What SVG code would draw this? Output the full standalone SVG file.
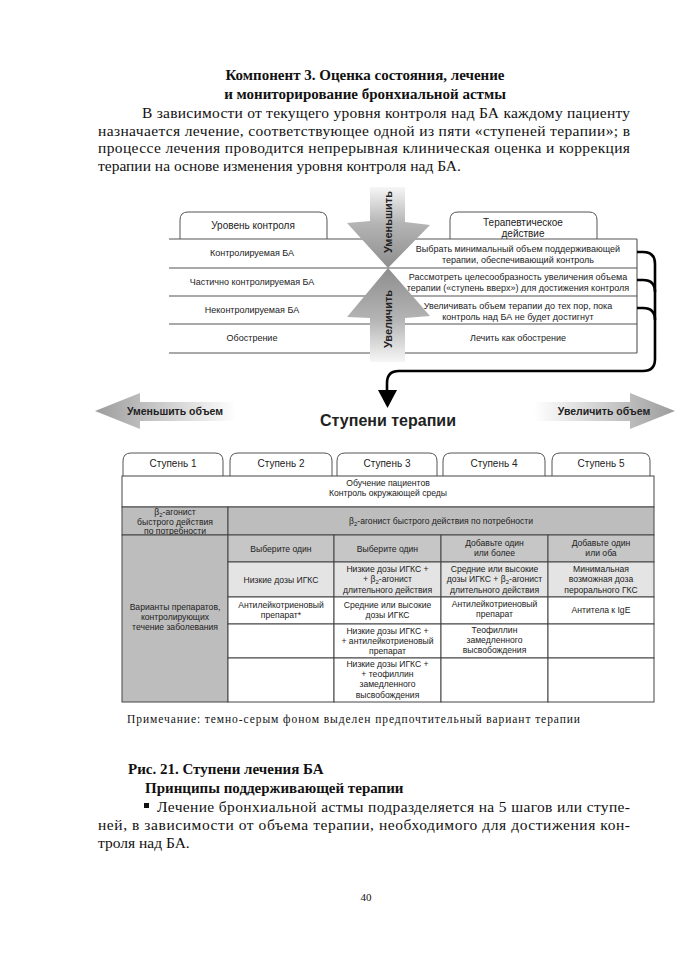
<svg xmlns="http://www.w3.org/2000/svg" width="678" height="960" viewBox="0 0 678 960">
<style>
.serif{font-family:"Liberation Serif","Times New Roman",serif;fill:#111}
.sans{font-family:"Liberation Sans",Arial,sans-serif;fill:#222}
.t9{font-size:9px;text-anchor:middle}
.t8{font-size:8.6px;text-anchor:middle}
.tab{fill:#fff;stroke:#555;stroke-width:1}
.ln{stroke:#555;stroke-width:1.1;fill:none}
.cell{stroke:#444;stroke-width:1}
.g1{fill:#bdbdbd}
.g2{fill:#c6c6c6}
.g3{fill:#e4e4e4}
.w{fill:#fff}
.con{stroke:#000;stroke-width:2.6;fill:none}
</style>
<defs>
<linearGradient id="gDown" x1="0" y1="0" x2="0" y2="1">
<stop offset="0" stop-color="#f6f6f6"/><stop offset="0.45" stop-color="#b4b4b4"/><stop offset="1" stop-color="#8e8e8e"/>
</linearGradient>
<linearGradient id="gUp" x1="0" y1="1" x2="0" y2="0">
<stop offset="0" stop-color="#f6f6f6"/><stop offset="0.45" stop-color="#b4b4b4"/><stop offset="1" stop-color="#8e8e8e"/>
</linearGradient>
<linearGradient id="gLeft" x1="0" y1="0" x2="1" y2="0">
<stop offset="0" stop-color="#9c9c9c"/><stop offset="0.4" stop-color="#c4c4c4"/><stop offset="1" stop-color="#ffffff"/>
</linearGradient>
<linearGradient id="gRight" x1="0" y1="0" x2="1" y2="0">
<stop offset="0" stop-color="#ffffff"/><stop offset="0.6" stop-color="#c4c4c4"/><stop offset="1" stop-color="#9c9c9c"/>
</linearGradient>
</defs>
<rect width="678" height="960" fill="#fff"/>

<!-- heading text -->
<g id="heading" class="serif">
<text x="365" y="80" font-size="15" font-weight="bold" text-anchor="middle">Компонент 3. Оценка состояния, лечение</text>
<text x="365" y="98.5" font-size="15" font-weight="bold" text-anchor="middle">и мониторирование бронхиальной астмы</text>
<text x="142" y="118" font-size="15.5" textLength="488" lengthAdjust="spacing">В зависимости от текущего уровня контроля над БА каждому пациенту</text>
<text x="98" y="135.5" font-size="15.5" textLength="532" lengthAdjust="spacing">назначается лечение, соответствующее одной из пяти «ступеней терапии»; в</text>
<text x="98" y="153" font-size="15.5" textLength="532" lengthAdjust="spacing">процессе лечения проводится непрерывная клиническая оценка и коррекция</text>
<text x="98" y="170.5" font-size="15.5">терапии на основе изменения уровня контроля над БА.</text>
</g>

<!-- upper table -->
<g id="control-table">
<path class="tab" d="M180,239 V220 Q180,212 188,212 H319 Q327,212 327,220 V239"/>
<text class="sans" x="253" y="228.5" font-size="10" text-anchor="middle">Уровень контроля</text>
<path class="tab" d="M450,239 V220 Q450,212 458,212 H589 Q597,212 597,220 V239"/>
<text class="sans" x="523" y="225.5" font-size="10" text-anchor="middle">Терапевтическое</text>
<text class="sans" x="523" y="236.5" font-size="10" text-anchor="middle">действие</text>
<line class="ln" x1="169" y1="239" x2="637" y2="239"/>
<line class="ln" x1="169" y1="268" x2="637" y2="268"/>
<line class="ln" x1="169" y1="296" x2="637" y2="296"/>
<line class="ln" x1="169" y1="324" x2="637" y2="324"/>
<line class="ln" x1="169" y1="353" x2="637" y2="353"/>
<line class="ln" x1="637" y1="239" x2="637" y2="353"/>
</g>
<g id="lvl1" class="sans t9"><text x="252" y="256">Контролируемая БА</text></g>
<g id="lvl2" class="sans t9"><text x="252" y="285">Частично контролируемая БА</text></g>
<g id="lvl3" class="sans t9"><text x="252" y="313">Неконтролируемая БА</text></g>
<g id="lvl4" class="sans t9"><text x="252" y="341">Обострение</text></g>
<g id="act1" class="sans t9"><text x="518" y="252">Выбрать минимальный объем поддерживающей</text><text x="518" y="262.5">терапии, обеспечивающий контроль</text></g>
<g id="act2" class="sans t9"><text x="518" y="280">Рассмотреть целесообразность увеличения объема</text><text x="518" y="290.5">терапии («ступень вверх») для достижения контроля</text></g>
<g id="act3" class="sans t9"><text x="518" y="309">Увеличивать объем терапии до тех пор, пока</text><text x="518" y="319.5">контроль над БА не будет достигнут</text></g>
<g id="act4" class="sans t9"><text x="518" y="341">Лечить как обострение</text></g>

<!-- central arrows -->
<g id="arrow-decrease">
<path d="M370,187 H405 V222 L430,225 L388,268 L347,223 L370,221 Z" fill="url(#gDown)"/>
<text class="sans" font-size="11" font-weight="bold" fill="#111" text-anchor="middle" transform="translate(392,222) rotate(-90)">Уменьшить</text>
</g>
<g id="arrow-increase">
<path d="M388,268 L430,316 L405,318 V362 H370 V318 L347,317 Z" fill="url(#gUp)"/>
<text class="sans" font-size="11" font-weight="bold" fill="#111" text-anchor="middle" transform="translate(392,319) rotate(-90)">Увеличить</text>
</g>

<!-- connectors -->
<g id="connectors">
<path class="con" d="M637,252 H643 Q655,252 655,264 V359 Q655,371 643,371 H399 Q387,371 387,383 V392"/>
<path class="con" d="M637,280 H643 Q655,280 655,292"/>
<path class="con" d="M637,308 H643 Q655,308 655,320"/>
<polygon points="378,390 397,390 387.5,408" fill="#000"/>
</g>

<!-- steps header -->
<g id="arrow-left">
<path d="M95,411 L140,393 V402 H236 V421 H140 V429 Z" fill="url(#gLeft)"/>
<text class="sans" x="175" y="415" font-size="10.5" font-weight="bold" text-anchor="middle" fill="#111">Уменьшить объем</text>
</g>
<g id="steps-title">
<text class="sans" x="388" y="426" font-size="16" font-weight="bold" text-anchor="middle" fill="#111">Ступени терапии</text>
</g>
<g id="arrow-right">
<path d="M675,411 L630,393 V402 H534 V421 H630 V429 Z" fill="url(#gRight)"/>
<text class="sans" x="604" y="415" font-size="10.5" font-weight="bold" text-anchor="middle" fill="#111">Увеличить объем</text>
</g>

<!-- step tabs -->
<g id="tab1"><path class="tab" d="M123,476 V461 Q123,453 131,453 H215 Q223,453 223,461 V476"/><text class="sans" x="173" y="467" font-size="10" text-anchor="middle">Ступень 1</text></g>
<g id="tab2"><path class="tab" d="M230,476 V461 Q230,453 238,453 H324 Q332,453 332,461 V476"/><text class="sans" x="281" y="467" font-size="10" text-anchor="middle">Ступень 2</text></g>
<g id="tab3"><path class="tab" d="M337,476 V461 Q337,453 345,453 H429 Q437,453 437,461 V476"/><text class="sans" x="387" y="467" font-size="10" text-anchor="middle">Ступень 3</text></g>
<g id="tab4"><path class="tab" d="M443,476 V461 Q443,453 451,453 H537 Q545,453 545,461 V476"/><text class="sans" x="494" y="467" font-size="10" text-anchor="middle">Ступень 4</text></g>
<g id="tab5"><path class="tab" d="M552,476 V461 Q552,453 560,453 H642 Q650,453 650,461 V476"/><text class="sans" x="601" y="467" font-size="10" text-anchor="middle">Ступень 5</text></g>

<!-- steps table -->
<g id="edu">
<rect class="cell w" x="122" y="476" width="532" height="31"/>
<text class="sans t8" x="388" y="486">Обучение пациентов</text>
<text class="sans t8" x="388" y="496">Контроль окружающей среды</text>
</g>
<g id="b2-step1">
<rect class="cell g1" x="122" y="507" width="106" height="28"/>
<text class="sans t8" x="175" y="515"><tspan>β</tspan><tspan font-size="6" dy="2">2</tspan><tspan dy="-2">-агонист</tspan></text>
<text class="sans t8" x="175" y="525">быстрого действия</text>
<text class="sans t8" x="175" y="534">по потребности</text>
</g>
<g id="b2-all">
<rect class="cell g1" x="228" y="507" width="426" height="28"/>
<text class="sans t8" x="441" y="524"><tspan>β</tspan><tspan font-size="6" dy="2">2</tspan><tspan dy="-2">-агонист быстрого действия по потребности</tspan></text>
</g>
<g id="variants">
<rect class="cell g1" x="122" y="535" width="106" height="167"/>
<text class="sans t8" x="175" y="610">Варианты препаратов,</text>
<text class="sans t8" x="175" y="620">контролирующих</text>
<text class="sans t8" x="175" y="630">течение заболевания</text>
</g>
<g id="h2"><rect class="cell g2" x="228" y="535" width="106" height="27"/><text class="sans t8" x="281" y="551.5">Выберите один</text></g>
<g id="h3"><rect class="cell g2" x="334" y="535" width="107" height="27"/><text class="sans t8" x="387.5" y="551.5">Выберите один</text></g>
<g id="h4"><rect class="cell g2" x="441" y="535" width="107" height="27"/><text class="sans t8" x="494.5" y="546">Добавьте один</text><text class="sans t8" x="494.5" y="556">или более</text></g>
<g id="h5"><rect class="cell g2" x="548" y="535" width="106" height="27"/><text class="sans t8" x="601" y="546">Добавьте один</text><text class="sans t8" x="601" y="556">или оба</text></g>

<g id="s2r1"><rect class="cell g3" x="228" y="562" width="106" height="35"/><text class="sans t8" x="281" y="582.5">Низкие дозы ИГКС</text></g>
<g id="s3r1"><rect class="cell g3" x="334" y="562" width="107" height="35"/>
<text class="sans t8" x="387.5" y="572">Низкие дозы ИГКС +</text>
<text class="sans t8" x="387.5" y="582"><tspan>+ β</tspan><tspan font-size="6" dy="2">2</tspan><tspan dy="-2">-агонист</tspan></text>
<text class="sans t8" x="387.5" y="593">длительного действия</text></g>
<g id="s4r1"><rect class="cell g3" x="441" y="562" width="107" height="35"/>
<text class="sans t8" x="494.5" y="572">Средние или высокие</text>
<text class="sans t8" x="494.5" y="582"><tspan>дозы ИГКС + β</tspan><tspan font-size="6" dy="2">2</tspan><tspan dy="-2">-агонист</tspan></text>
<text class="sans t8" x="494.5" y="593">длительного действия</text></g>
<g id="s5r1"><rect class="cell g3" x="548" y="562" width="106" height="35"/>
<text class="sans t8" x="601" y="572">Минимальная</text>
<text class="sans t8" x="601" y="582">возможная доза</text>
<text class="sans t8" x="601" y="593">перорального ГКС</text></g>

<g id="s2r2"><rect class="cell w" x="228" y="597" width="106" height="27"/><text class="sans t8" x="281" y="608">Антилейкотриеновый</text><text class="sans t8" x="281" y="618">препарат*</text></g>
<g id="s3r2"><rect class="cell w" x="334" y="597" width="107" height="27"/><text class="sans t8" x="387.5" y="608">Средние или высокие</text><text class="sans t8" x="387.5" y="618">дозы ИГКС</text></g>
<g id="s4r2"><rect class="cell w" x="441" y="597" width="107" height="27"/><text class="sans t8" x="494.5" y="607">Антилейкотриеновый</text><text class="sans t8" x="494.5" y="617">препарат</text></g>
<g id="s5r2"><rect class="cell w" x="548" y="597" width="106" height="27"/><text class="sans t8" x="601" y="613">Антитела к IgE</text></g>

<g id="s2r3"><rect class="cell w" x="228" y="624" width="106" height="34"/></g>
<g id="s3r3"><rect class="cell w" x="334" y="624" width="107" height="34"/>
<text class="sans t8" x="387.5" y="634">Низкие дозы ИГКС +</text>
<text class="sans t8" x="387.5" y="644">+ антилейкотриеновый</text>
<text class="sans t8" x="387.5" y="654">препарат</text></g>
<g id="s4r3"><rect class="cell w" x="441" y="624" width="107" height="34"/>
<text class="sans t8" x="494.5" y="633">Теофиллин</text>
<text class="sans t8" x="494.5" y="643">замедленного</text>
<text class="sans t8" x="494.5" y="653">высвобождения</text></g>
<g id="s5r3"><rect class="cell w" x="548" y="624" width="106" height="34"/></g>

<g id="s2r4"><rect class="cell w" x="228" y="658" width="106" height="44"/></g>
<g id="s3r4"><rect class="cell w" x="334" y="658" width="107" height="44"/>
<text class="sans t8" x="387.5" y="667">Низкие дозы ИГКС +</text>
<text class="sans t8" x="387.5" y="677">+ теофиллин</text>
<text class="sans t8" x="387.5" y="687">замедленного</text>
<text class="sans t8" x="387.5" y="698">высвобождения</text></g>
<g id="s4r4"><rect class="cell w" x="441" y="658" width="107" height="44"/></g>
<g id="s5r4"><rect class="cell w" x="548" y="658" width="106" height="44"/></g>

<!-- note and following text -->
<g id="note" class="serif">
<text x="127" y="723" font-size="11.5" textLength="453" lengthAdjust="spacing">Примечание: темно-серым фоном выделен предпочтительный вариант терапии</text>
</g>
<g id="body" class="serif">
<text x="128" y="774" font-size="15" font-weight="bold">Рис. 21. Ступени лечения БА</text>
<text x="145" y="793" font-size="15" font-weight="bold">Принципы поддерживающей терапии</text>
<rect x="144" y="803" width="5" height="5" fill="#111"/>
<text x="157" y="812" font-size="15.5" textLength="473" lengthAdjust="spacing">Лечение бронхиальной астмы подразделяется на 5 шагов или ступе-</text>
<text x="98" y="830" font-size="15.5" textLength="532" lengthAdjust="spacing">ней, в зависимости от объема терапии, необходимого для достижения кон-</text>
<text x="98" y="848" font-size="15.5">троля над БА.</text>
<text x="366" y="901" font-size="11" text-anchor="middle">40</text>
</g>
</svg>
